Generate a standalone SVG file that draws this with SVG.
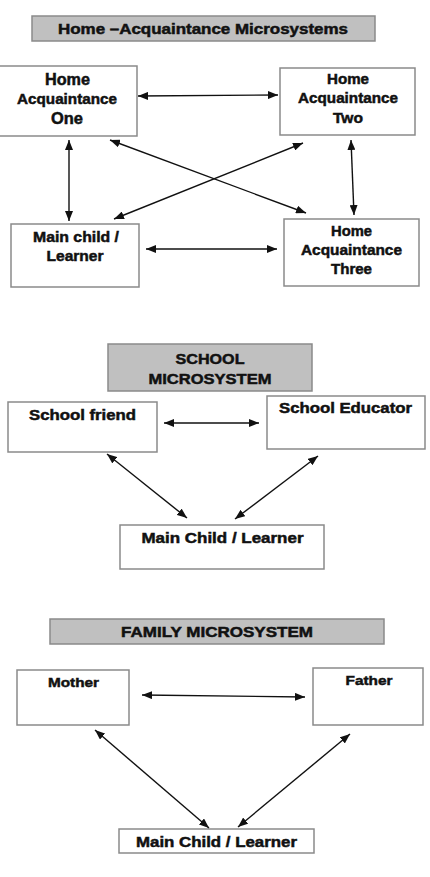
<svg xmlns="http://www.w3.org/2000/svg" width="430" height="877" viewBox="0 0 430 877">
<defs>
<style>
.bg{fill:#ffffff}
.box{fill:#ffffff;stroke:#8a8a8a;stroke-width:1.5}
.title{fill:#c0c0c0;stroke:#8a8a8a;stroke-width:1.5}
text{font-family:"Liberation Sans",Arial,sans-serif;font-weight:bold;fill:#111;text-anchor:middle;stroke:#111;stroke-width:0.5}
.conn line{stroke:#111;stroke-width:1.4;marker-start:url(#ah);marker-end:url(#ah)}
</style>
<marker id="ah" viewBox="0 0 10 8" refX="10" refY="4" markerWidth="10" markerHeight="8" markerUnits="userSpaceOnUse" orient="auto-start-reverse">
<path d="M0,0 L10,4 L0,8 Z" fill="#111"/>
</marker>
</defs>
<rect class="bg" x="0" y="0" width="430" height="877"/>

<g id="title-home">
<rect class="title" x="32" y="16" width="343" height="25"/>
<text x="203" y="34" font-size="15" textLength="290" lengthAdjust="spacingAndGlyphs">Home –Acquaintance Microsystems</text>
</g>
<g id="ha-one">
<rect class="box" x="-1" y="66" width="138" height="70"/>
<text x="67.5" y="85" font-size="16" textLength="45" lengthAdjust="spacingAndGlyphs">Home</text>
<text x="67" y="104" font-size="15" textLength="100" lengthAdjust="spacingAndGlyphs">Acquaintance</text>
<text x="67" y="124" font-size="16" textLength="32" lengthAdjust="spacingAndGlyphs">One</text>
</g>
<g id="ha-two">
<rect class="box" x="280" y="68" width="135" height="67"/>
<text x="348" y="84" font-size="15" textLength="42" lengthAdjust="spacingAndGlyphs">Home</text>
<text x="348" y="103" font-size="15" textLength="100" lengthAdjust="spacingAndGlyphs">Acquaintance</text>
<text x="348" y="123" font-size="15" textLength="30" lengthAdjust="spacingAndGlyphs">Two</text>
</g>
<g id="main-child-1">
<rect class="box" x="11" y="224" width="128" height="63"/>
<text x="76" y="242" font-size="15" textLength="86" lengthAdjust="spacingAndGlyphs">Main child /</text>
<text x="75" y="261" font-size="15" textLength="57" lengthAdjust="spacingAndGlyphs">Learner</text>
</g>
<g id="ha-three">
<rect class="box" x="284" y="219" width="135" height="67"/>
<text x="351.5" y="236" font-size="15" textLength="41" lengthAdjust="spacingAndGlyphs">Home</text>
<text x="351.5" y="255" font-size="15" textLength="101" lengthAdjust="spacingAndGlyphs">Acquaintance</text>
<text x="351.5" y="274" font-size="15" textLength="41" lengthAdjust="spacingAndGlyphs">Three</text>
</g>

<g id="title-school">
<rect class="title" x="108" y="344" width="204" height="47"/>
<text x="210" y="364" font-size="15" textLength="69" lengthAdjust="spacingAndGlyphs">SCHOOL</text>
<text x="210" y="384" font-size="15" textLength="123" lengthAdjust="spacingAndGlyphs">MICROSYSTEM</text>
</g>
<g id="school-friend">
<rect class="box" x="8" y="402" width="149" height="50"/>
<text x="82.5" y="420" font-size="15" textLength="107" lengthAdjust="spacingAndGlyphs">School friend</text>
</g>
<g id="school-educator">
<rect class="box" x="267" y="396" width="158" height="53"/>
<text x="345.5" y="413" font-size="15" textLength="133" lengthAdjust="spacingAndGlyphs">School Educator</text>
</g>
<g id="main-child-2">
<rect class="box" x="120" y="525" width="204" height="44"/>
<text x="222.5" y="543" font-size="15" textLength="162" lengthAdjust="spacingAndGlyphs">Main Child / Learner</text>
</g>

<g id="title-family">
<rect class="title" x="50" y="619" width="334" height="25"/>
<text x="217" y="637" font-size="15" textLength="192" lengthAdjust="spacingAndGlyphs">FAMILY MICROSYSTEM</text>
</g>
<g id="mother">
<rect class="box" x="17" y="670" width="112" height="55"/>
<text x="73.5" y="687" font-size="13.5" textLength="51" lengthAdjust="spacingAndGlyphs">Mother</text>
</g>
<g id="father">
<rect class="box" x="313" y="668" width="110" height="57"/>
<text x="369" y="685" font-size="13.5" textLength="47" lengthAdjust="spacingAndGlyphs">Father</text>
</g>
<g id="main-child-3">
<rect class="box" x="119" y="829" width="195" height="24"/>
<text x="216.5" y="847" font-size="15" textLength="161" lengthAdjust="spacingAndGlyphs">Main Child / Learner</text>
</g>

<g id="connectors" class="conn">
<line x1="138" y1="96" x2="278" y2="95"/>
<line x1="69" y1="140" x2="69" y2="221"/>
<line x1="351" y1="140" x2="354" y2="215"/>
<line x1="110" y1="140" x2="306" y2="213"/>
<line x1="303" y1="143" x2="114" y2="219"/>
<line x1="146" y1="249" x2="277" y2="249"/>
<line x1="164" y1="423" x2="259" y2="423"/>
<line x1="107" y1="454" x2="187" y2="518"/>
<line x1="318" y1="456" x2="235" y2="519"/>
<line x1="142" y1="695" x2="305" y2="697"/>
<line x1="95" y1="730" x2="209" y2="828"/>
<line x1="350" y1="734" x2="238" y2="827"/>
</g>
</svg>
